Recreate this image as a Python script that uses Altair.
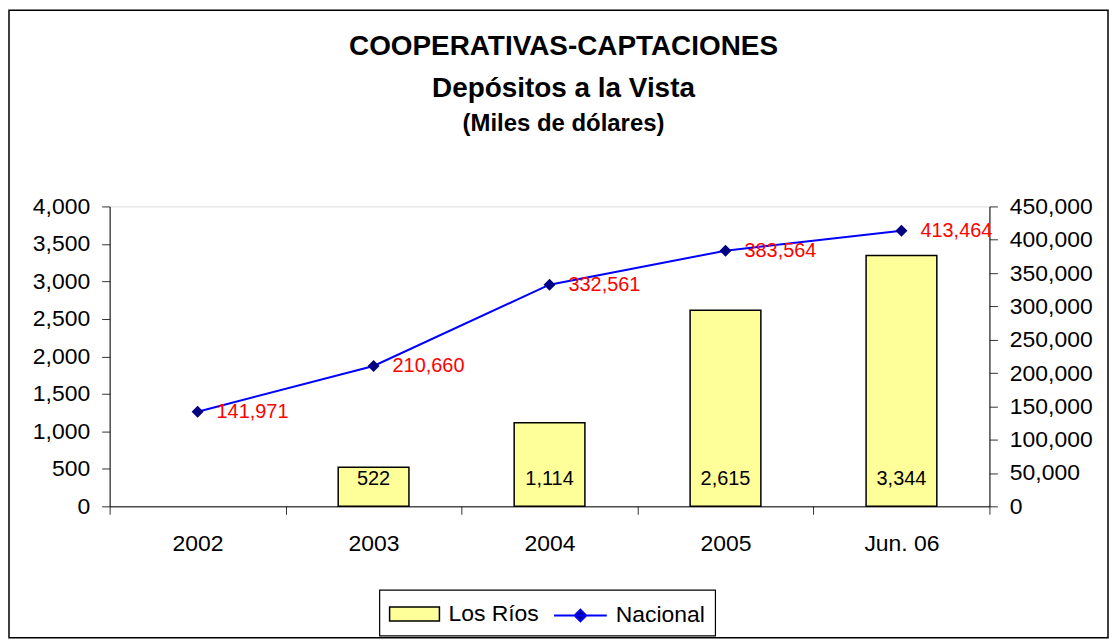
import altair as alt
import pandas as pd

categorias = ["2002", "2003", "2004", "2005", "Jun. 06"]
los_rios = [None, 522, 1114, 2615, 3344]
nacional = [141971, 210660, 332561, 383564, 413464]

df = pd.DataFrame({
    "cat": categorias,
    "rios": los_rios,
    "nac": nacional,
    "s_rios": ["Los Ríos"] * 5,
    "s_nac": ["Nacional"] * 5,
})

FONT = "Liberation Sans"
W, H = 883, 301

xaxis = alt.Axis(
    title=None, labelAngle=0, tickBand="extent", tickSize=8,
    labelPadding=18, labelFontSize=23, labelColor="black",
    domainColor="black", tickColor="#333333", labelFont=FONT,
)
xscale = alt.Scale(paddingInner=0, paddingOuter=0)


def X():
    return alt.X("cat:N", sort=categorias, scale=xscale, axis=xaxis)


left_axis = alt.Axis(
    title=None, values=list(range(0, 4001, 500)), format=",.0f",
    tickSize=8, labelPadding=12, labelFontSize=23, labelColor="black",
    domainColor="black", tickColor="#333333", grid=False, labelFont=FONT,
)
left_scale = alt.Scale(domain=[0, 4000])

right_axis = alt.Axis(
    title=None, orient="right", values=list(range(0, 450001, 50000)), format=",.0f",
    tickSize=8, labelPadding=12, labelFontSize=23, labelColor="black",
    domainColor="black", tickColor="#333333", grid=False, labelFont=FONT,
)
right_scale = alt.Scale(domain=[0, 450000])

base = alt.Chart(df)

bars = base.transform_filter("isValid(datum.rios)").mark_bar(
    size=71, stroke="black", strokeWidth=1.5
).encode(
    x=X(),
    y=alt.Y("rios:Q", scale=left_scale, axis=left_axis),
    fill=alt.Fill(
        "s_rios:N",
        scale=alt.Scale(domain=["Los Ríos"], range=["#FFFF99"]),
        legend=alt.Legend(
            title=None, orient="none", legendX=280, legendY=383,
            symbolType="M-1,-0.28H1V0.28H-1Z", symbolSize=2500,
            symbolStrokeColor="black", symbolStrokeWidth=1.5,
            labelFontSize=23, labelFont=FONT, labelColor="black", labelOffset=8,
        ),
    ),
)

bar_text = base.transform_filter("isValid(datum.rios)").mark_text(
    baseline="middle", align="center", dy=-27, fontSize=20, font=FONT, color="black"
).encode(
    x=X(),
    y=alt.YDatum(0, type="quantitative", scale=left_scale, axis=left_axis),
    text=alt.Text("rios:Q", format=","),
)

left = alt.layer(bars, bar_text)

line = base.mark_line(color="#0000FF", strokeWidth=2).encode(
    x=X(),
    y=alt.Y("nac:Q", scale=right_scale, axis=right_axis),
    stroke=alt.Stroke(
        "s_nac:N",
        scale=alt.Scale(domain=["Nacional"], range=["#0000FF"]),
        legend=alt.Legend(
            title=None, orient="none", legendX=445, legendY=383,
            symbolType="M-1,0H1M0,-0.22L0.22,0L0,0.22L-0.22,0Z", symbolSize=2800,
            symbolFillColor="#000080", symbolStrokeColor="#0000FF", symbolStrokeWidth=2,
            labelFontSize=23, labelFont=FONT, labelColor="black", labelOffset=8,
        ),
    ),
)

points = base.mark_point(shape="diamond", filled=True, size=144, color="#000080", opacity=1).encode(
    x=X(),
    y=alt.Y("nac:Q", scale=right_scale, axis=right_axis),
)

labels = base.mark_text(
    align="left", baseline="middle", dx=19, fontSize=20, font=FONT, color="#FF0000"
).encode(
    x=X(),
    y=alt.Y("nac:Q", scale=right_scale, axis=right_axis),
    text=alt.Text("nac:Q", format=","),
)

right = alt.layer(line, points, labels)

deco_df = pd.DataFrame({"k": [0]})
legend_box = alt.Chart(deco_df).mark_rect(
    fill="white", stroke="black", strokeWidth=1.2
).encode(
    x=alt.value(271), x2=alt.value(608), y=alt.value(385), y2=alt.value(431)
)
outer_box = alt.Chart(deco_df).mark_rect(
    fill=None, stroke="black", strokeWidth=1.5
).encode(
    x=alt.value(-101), x2=alt.value(1002), y=alt.value(-197), y2=alt.value(433)
)

chart = alt.layer(outer_box, legend_box, left, right).resolve_scale(
    y="independent", fill="independent", stroke="independent"
).properties(
    width=W, height=H,
    autosize=alt.AutoSizeParams(type="none"),
    padding={"left": 102, "top": 198, "right": 120, "bottom": 134},
    title=alt.Title(
        text=["COOPERATIVAS-CAPTACIONES", "Depósitos a la Vista"],
        subtitle="(Miles de dólares)",
        font=FONT, fontSize=28, fontWeight="bold", color="black", lineHeight=42,
        subtitleFont=FONT, subtitleFontSize=24, subtitleFontWeight="bold",
        subtitleColor="black", subtitlePadding=9,
        anchor="middle", dx=14, offset=-127,
    ),
).configure_view(stroke="#808080", strokeWidth=1.5).configure(background="white")

chart.save("out.html", embed_options={"renderer": "svg", "actions": False})
